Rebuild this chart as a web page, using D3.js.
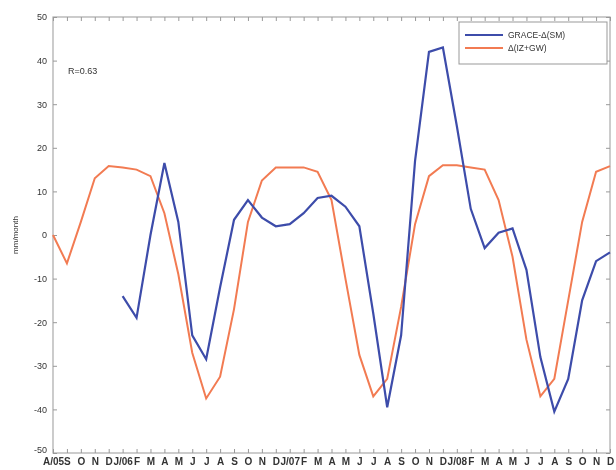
<!DOCTYPE html>
<html><head><meta charset="utf-8">
<script src="https://cdn.jsdelivr.net/npm/d3@7"></script>
<style>
body{margin:0;background:#fff;}
svg{display:block;filter:blur(0.45px);}
text{font-family:"Liberation Sans",Arial,sans-serif;fill:#333;}
</style></head><body>
<svg id="c" width="616" height="470"></svg>
<script>
const monthLabels = ["A/05","S","O","N","D","J/06","F","M","A","M","J","J","A","S","O","N","D","J/07","F","M","A","M","J","J","A","S","O","N","D","J/08","F","M","A","M","J","J","A","S","O","N","D"];
const izgw = [0,-6.5,3,13,15.8,15.5,15,13.5,5,-9,-27,-37.5,-32.5,-17,3,12.5,15.5,15.5,15.5,14.5,8,-10,-27.5,-37,-33,-16.5,2.5,13.5,16,16,15.5,15,8,-5,-24,-37,-33,-15,3,14.5,15.8];
const graceStart = 5;
const grace = [-14,-19,0,16.5,3,-23,-28.5,-12,3.5,8,4,2,2.5,5,8.5,9,6.5,2,-18,-39.5,-23,17,42,43,25,6,-3,0.5,1.5,-8,-28,-40.5,-33,-15,-6,-4];
const yTicks = [-50,-40,-30,-20,-10,0,10,20,30,40,50];
const seriesNames = ["GRACE-\u0394(SM)","\u0394(IZ+GW)"];
const colors = ["#3d4caa","#f27b52"];

const L=53,R=610,T=17,B=453;
const svg=d3.select("#c");
const x=d3.scaleLinear().domain([0,monthLabels.length-1]).range([L,R]);
const y=d3.scaleLinear().domain([-50,50]).range([B,T]);

svg.append("rect").attr("x",L).attr("y",T).attr("width",R-L).attr("height",B-T)
  .attr("fill","none").attr("stroke","#aaa").attr("stroke-width",1.2);

const idx=d3.range(monthLabels.length);
const xb=svg.append("g").attr("transform",`translate(0,${B})`)
  .call(d3.axisBottom(x).tickValues(idx).tickSize(-4).tickPadding(6).tickFormat(i=>monthLabels[i]));
xb.select(".domain").remove();
xb.selectAll("line").attr("stroke","#999");
xb.selectAll("text").attr("font-size",10).attr("font-weight","bold").attr("fill","#444").attr("dy","0.6em");
const xt=svg.append("g").attr("transform",`translate(0,${T})`)
  .call(d3.axisTop(x).tickValues(idx).tickSize(-4).tickFormat(""));
xt.select(".domain").remove(); xt.selectAll("line").attr("stroke","#999");
const yl=svg.append("g").attr("transform",`translate(${L},0)`)
  .call(d3.axisLeft(y).tickValues(yTicks).tickSize(-4).tickPadding(6).tickFormat(d=>String(d)));
yl.select(".domain").remove(); yl.selectAll("line").attr("stroke","#999");
yl.selectAll("text").attr("font-size",9).attr("fill","#444");
yl.selectAll("text").filter(d=>d===-50).attr("dy","-0.05em");
const yr=svg.append("g").attr("transform",`translate(${R},0)`)
  .call(d3.axisRight(y).tickValues(yTicks).tickSize(-4).tickFormat(""));
yr.select(".domain").remove(); yr.selectAll("line").attr("stroke","#999");

svg.append("text").attr("transform",`translate(18,${(T+B)/2}) rotate(-90)`)
  .attr("text-anchor","middle").attr("font-size",8).text("mm/month");

const line=d3.line().x(d=>x(d[0])).y(d=>y(d[1]));
svg.append("path").datum(izgw.map((v,i)=>[i,v])).attr("d",line)
  .attr("fill","none").attr("stroke",colors[1]).attr("stroke-width",2);
svg.append("path").datum(grace.map((v,i)=>[i+graceStart,v])).attr("d",line)
  .attr("fill","none").attr("stroke",colors[0]).attr("stroke-width",2.2);

svg.append("text").attr("x",68).attr("y",74).attr("font-size",9).text("R=0.63");

const lg=svg.append("g");
lg.append("rect").attr("x",459).attr("y",22).attr("width",148).attr("height",42)
  .attr("fill","#fff").attr("stroke","#999").attr("stroke-width",1);
seriesNames.forEach((n,i)=>{
  const yy=35+i*13;
  lg.append("line").attr("x1",465).attr("x2",503).attr("y1",yy).attr("y2",yy)
    .attr("stroke",colors[i]).attr("stroke-width",2);
  lg.append("text").attr("x",508).attr("y",yy+3).attr("font-size",8.5).text(n);
});
</script></body></html>
